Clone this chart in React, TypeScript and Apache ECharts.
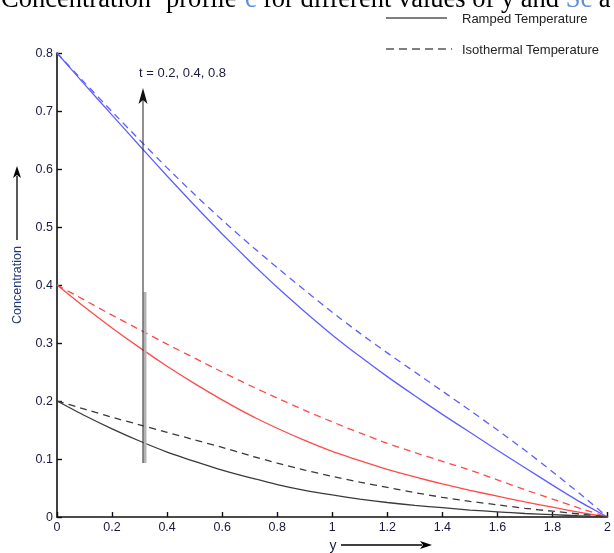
import React, { useEffect, useRef } from "react";
import * as echarts from "echarts";

const X_VALUES = [0, 0.1, 0.2, 0.3, 0.4, 0.5, 0.6, 0.7, 0.8, 0.9, 1.0, 1.1, 1.2, 1.3, 1.4, 1.5, 1.6, 1.7, 1.8, 1.9, 2.0];

// t = 0.8 (blue)
const RAMPED_T08 = [0.8, 0.746, 0.693, 0.64, 0.588, 0.537, 0.488, 0.441, 0.396, 0.354, 0.314, 0.277, 0.242, 0.209, 0.177, 0.146, 0.115, 0.085, 0.055, 0.026, 0];
const ISO_T08 = [0.8, 0.749, 0.699, 0.65, 0.602, 0.556, 0.512, 0.47, 0.43, 0.391, 0.353, 0.317, 0.283, 0.25, 0.217, 0.184, 0.15, 0.115, 0.078, 0.04, 0];
// t = 0.4 (red)
const RAMPED_T04 = [0.4, 0.362, 0.326, 0.292, 0.26, 0.23, 0.202, 0.176, 0.153, 0.132, 0.113, 0.097, 0.082, 0.069, 0.057, 0.046, 0.036, 0.026, 0.017, 0.008, 0];
const ISO_T04 = [0.4, 0.374, 0.348, 0.323, 0.298, 0.274, 0.25, 0.227, 0.205, 0.184, 0.164, 0.145, 0.127, 0.111, 0.096, 0.081, 0.064, 0.047, 0.031, 0.015, 0];
// t = 0.2 (black)
const RAMPED_T02 = [0.2, 0.175, 0.152, 0.131, 0.112, 0.096, 0.081, 0.068, 0.056, 0.046, 0.038, 0.031, 0.025, 0.02, 0.016, 0.012, 0.009, 0.006, 0.004, 0.002, 0];
const ISO_T02 = [0.2, 0.186, 0.172, 0.159, 0.146, 0.133, 0.12, 0.106, 0.093, 0.081, 0.07, 0.06, 0.051, 0.042, 0.034, 0.027, 0.021, 0.015, 0.01, 0.005, 0];

const LEGEND_LABELS = ["Ramped Temperature", "Isothermal Temperature"];
const TITLE_PARTS = ["Concentration", "profile", "c", "for different values of y and ", "Sc", " a"];
const ANNOTATION = "t = 0.2, 0.4, 0.8";

const BLUE = "#5f5fff";
const RED = "#ff4a4a";
const BLACK = "#3a3a3a";
const TITLE_BLUE = "#5b8fd6";
const SERIF = "'Liberation Serif', 'Times New Roman', serif";
const SANS = "Arial, 'Liberation Sans', sans-serif";

function mk(name: string, vals: number[], color: string, dashed: boolean) {
  return {
    name,
    type: "line",
    data: X_VALUES.map((x, i) => [x, vals[i]]),
    showSymbol: false,
    smooth: 0.2,
    lineStyle: { color, width: 1.3, type: dashed ? [7, 5] : "solid" },
    z: 3,
  };
}

export default function App() {
  const ref = useRef<HTMLDivElement>(null);
  useEffect(() => {
    if (!ref.current) return;
    const chart = echarts.init(ref.current, null, { renderer: "svg" });
    const labelStyle = { color: "#1a1a40", fontFamily: SANS, fontSize: 12.5 };
    const titleY = -2.5;
    const titleText = (text: string, x: number, fill: string) => ({
      type: "text",
      x,
      y: titleY,
      style: { text, fontFamily: SERIF, fontSize: 26.5, fill, verticalAlign: "middle" },
    });
    chart.setOption({
      animation: false,
      grid: { left: 57, right: 2, top: 53, bottom: 36, containLabel: false },
      xAxis: {
        type: "value",
        min: 0,
        max: 2,
        interval: 0.2,
        splitLine: { show: false },
        axisLine: { show: true, onZero: false, lineStyle: { color: "#111", width: 1.6 } },
        axisTick: { show: true, inside: true, length: 5, lineStyle: { color: "#111", width: 1.4 } },
        axisLabel: { ...labelStyle, margin: 3 },
      },
      yAxis: {
        type: "value",
        min: 0,
        max: 0.8,
        interval: 0.1,
        splitLine: { show: false },
        axisLine: { show: true, onZero: false, lineStyle: { color: "#111", width: 1.6 } },
        axisTick: { show: true, inside: true, length: 5, lineStyle: { color: "#111", width: 1.4 } },
        axisLabel: { ...labelStyle, margin: 4 },
      },
      series: [
        mk("Ramped t=0.8", RAMPED_T08, BLUE, false),
        mk("Isothermal t=0.8", ISO_T08, BLUE, true),
        mk("Ramped t=0.4", RAMPED_T04, RED, false),
        mk("Isothermal t=0.4", ISO_T04, RED, true),
        mk("Ramped t=0.2", RAMPED_T02, BLACK, false),
        mk("Isothermal t=0.2", ISO_T02, BLACK, true),
      ],
      graphic: [
        // title (cut off at the top as in the source)
        titleText(TITLE_PARTS[0], 1, "#000"),
        titleText(TITLE_PARTS[1], 166, "#000"),
        titleText(TITLE_PARTS[2], 245, TITLE_BLUE),
        {
          type: "text",
          x: 263,
          y: titleY,
          style: {
            text: `{a|${TITLE_PARTS[3]}}{b|${TITLE_PARTS[4]}}{a|${TITLE_PARTS[5]}}`,
            verticalAlign: "middle",
            rich: {
              a: { fontFamily: SERIF, fontSize: 26.5, fill: "#000" },
              b: { fontFamily: SERIF, fontSize: 26.5, fill: TITLE_BLUE },
            },
          },
        },
        // legend
        { type: "line", shape: { x1: 386, y1: 18, x2: 447, y2: 18 }, style: { stroke: "#000", lineWidth: 1.2 } },
        {
          type: "text",
          x: 462,
          y: 18,
          style: { text: LEGEND_LABELS[0], fontFamily: SANS, fontSize: 13, fill: "#222", verticalAlign: "middle" },
        },
        { type: "line", shape: { x1: 386, y1: 49, x2: 452, y2: 49 }, style: { stroke: "#000", lineWidth: 1.2, lineDash: [8, 5] } },
        {
          type: "text",
          x: 462,
          y: 49,
          style: { text: LEGEND_LABELS[1], fontFamily: SANS, fontSize: 13, fill: "#222", verticalAlign: "middle" },
        },
        // annotation arrow
        { type: "line", shape: { x1: 145, y1: 292, x2: 145, y2: 463 }, style: { stroke: "#b4b4b4", lineWidth: 3 }, z: 5 },
        { type: "line", shape: { x1: 143, y1: 463, x2: 143, y2: 100 }, style: { stroke: "#222", lineWidth: 1 }, z: 6 },
        { type: "polygon", shape: { points: [[143, 88], [147.5, 104], [143, 100], [138.5, 104]] }, style: { fill: "#111" }, z: 6 },
        {
          type: "text",
          x: 139,
          y: 72,
          style: { text: ANNOTATION, fontFamily: SANS, fontSize: 13, fill: "#1a1a40", verticalAlign: "middle" },
        },
        // y axis label with arrow
        {
          type: "text",
          x: 17,
          y: 285,
          rotation: Math.PI / 2,
          style: { text: "Concentration", fontFamily: SANS, fontSize: 12.5, fill: "#243a78", align: "center", verticalAlign: "middle" },
        },
        { type: "line", shape: { x1: 17, y1: 240, x2: 17, y2: 176 }, style: { stroke: "#000", lineWidth: 1.3 } },
        { type: "polygon", shape: { points: [[17, 166], [21, 178], [17, 175], [13, 178]] }, style: { fill: "#000" } },
        // x axis label with arrow
        {
          type: "text",
          x: 333,
          y: 545,
          style: { text: "y", fontFamily: SANS, fontSize: 14, fill: "#1a1a40", align: "center", verticalAlign: "middle" },
        },
        { type: "line", shape: { x1: 341, y1: 545, x2: 422, y2: 545 }, style: { stroke: "#000", lineWidth: 1.3 } },
        { type: "polygon", shape: { points: [[432, 545], [420, 549], [423, 545], [420, 541]] }, style: { fill: "#000" } },
      ],
    });
    return () => chart.dispose();
  }, []);
  return <div ref={ref} style={{ position: "fixed", left: 0, top: 0, width: 614, height: 553 }} />;
}
